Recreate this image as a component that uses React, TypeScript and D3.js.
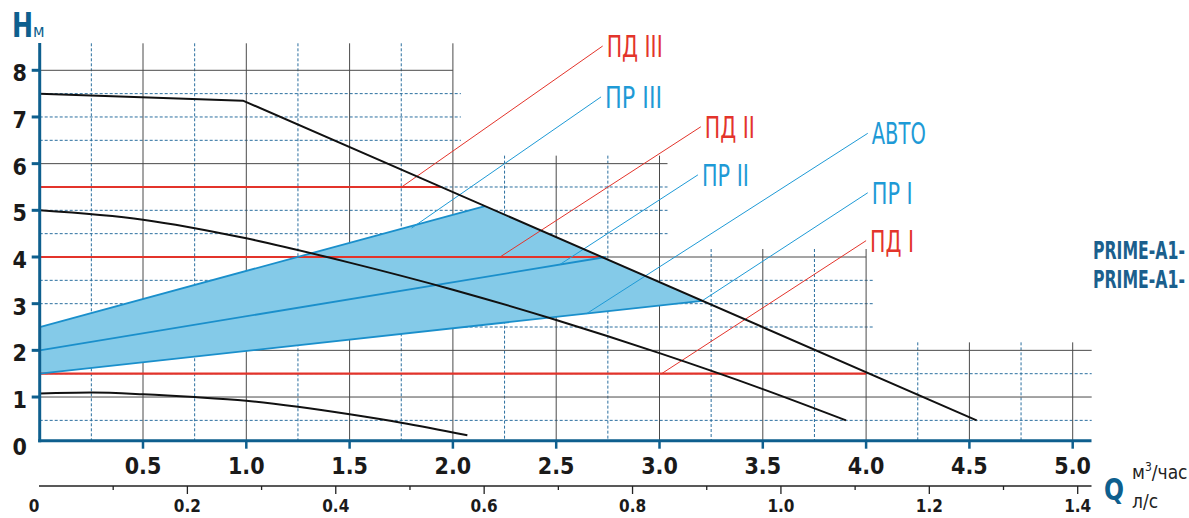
import React from "react";
import * as d3 from "d3";

// ---------- data ----------
const qTicks = [0.5, 1.0, 1.5, 2.0, 2.5, 3.0, 3.5, 4.0, 4.5, 5.0];
const hTicks = [0, 1, 2, 3, 4, 5, 6, 7, 8];
const lsTicks = [0.1, 0.2, 0.3, 0.4, 0.5, 0.6, 0.7, 0.8, 0.9, 1.0, 1.1, 1.2, 1.3, 1.4];
const lsLabels = [0, 0.2, 0.4, 0.6, 0.8, 1.0, 1.2, 1.4];

const topCurveQ = [0, 0.984, 4.535];
const topCurveH = [7.5, 7.35, 0.5];
const midCurveQ = [0, 0.5, 1.0, 1.5, 2.0, 2.5, 3.0, 3.5, 3.903];
const midCurveH = [5.0, 4.8, 4.4, 3.88, 3.3, 2.65, 1.94, 1.17, 0.5];
const lowCurveQ = [0, 0.25, 0.5, 0.75, 1.0, 1.25, 1.5, 1.75, 2.07];
const lowCurveH = [1.075, 1.095, 1.06, 1.0, 0.92, 0.79, 0.63, 0.45, 0.18];

// proportional pressure lines (ПР)
const prNames = ["ПР III", "ПР II", "ПР I"];
const prStartH = [2.5, 2.0, 1.5];
const prEndQ = [2.155, 2.74, 3.206];
const prEndH = [5.09, 4.0, 3.06];

// constant pressure lines (ПД)
const pdNames = ["ПД III", "ПД II", "ПД I"];
const pdH = [5.5, 4.0, 1.5];
const pdEndQ = [1.943, 2.73, 4.0];

// AUTO region polygon
const autoQ = [0, 2.155, 3.206, 0];
const autoH = [2.5, 5.09, 3.06, 1.5];

// mode labels and leaders
const modeLabels = ["ПД III", "ПР III", "ПД II", "ПР II", "АВТО", "ПР I", "ПД I"];
const modeKinds = ["pd", "pr", "pd", "pr", "pr", "pr", "pd"];
const leaderStartQ = [1.752, 1.8, 2.228, 2.518, 2.647, 3.206, 3.01];
const leaderStartH = [5.5, 4.62, 4.0, 3.84, 2.786, 3.06, 1.5];
const leaderEndQ = [2.725, 2.717, 3.2, 3.186, 4.008, 4.008, 4.0];
const leaderEndH = [8.52, 7.43, 6.79, 5.76, 6.65, 5.376, 4.35];
const labelWidths = [56, 57, 50, 47, 54, 41, 44];

// grid blocks
const gridQMax = [2, 3, 4, 5];
const gridHMax = [8, 6, 4, 2];
const darkH = [1, 2, 4, 6, 8];

const modelLines = ["PRIME-A1-", "PRIME-A1-"];

// ---------- styles ----------
const W = 1189;
const HH = 518;
const AXIS = "#0e5f8e";
const RED = "#e3342b";
const BLUE = "#1a8fcb";
const LBLUE = "#1e9ad6";
const FILL = "#84cae8";
const GRID_DARK = "#4a4a4a";
const GRID_BLUE = "#2b6f9f";
const FONT = "'Liberation Sans Narrow', 'DejaVu Sans Condensed', 'Open Sans', sans-serif";

export default function App() {
  const x = d3.scaleLinear().domain([0, 5]).range([39.7, 39.7 + 5 * 206.6]);
  const y = d3.scaleLinear().domain([0, 8]).range([443.7, 70.3]);
  const xl = d3.scaleLinear().domain([0, 1.4]).range([39, 1077.7]);

  const axisY = y(0) - 3;

  const line = d3
    .line<[number, number]>()
    .x((d) => x(d[0]))
    .y((d) => y(d[1]));
  const smooth = d3
    .line<[number, number]>()
    .x((d) => x(d[0]))
    .y((d) => y(d[1]))
    .curve(d3.curveMonotoneX);

  const zip = (a: number[], b: number[]) => a.map((v, i) => [v, b[i]] as [number, number]);

  // grid
  const hLines = d3.range(0.5, 8.01, 0.5).map((h) => {
    let bi = 0;
    gridHMax.forEach((m, i) => {
      if (m >= h - 1e-9) bi = i;
    });
    const dark = darkH.some((d) => Math.abs(d - h) < 1e-9);
    const ext = bi === 3 ? 19 : h === 8 || h === 4 ? 0 : 8;
    return { h, x2: x(gridQMax[bi]) + ext, dark };
  });
  const vLines = d3.range(0.25, 5.01, 0.25).map((q) => {
    const bi = gridQMax.findIndex((m) => m >= q - 1e-9);
    const top = bi === 0 ? y(gridHMax[0]) - 27 : y(gridHMax[bi]) - 8;
    const dark = Math.abs(q * 2 - Math.round(q * 2)) < 1e-9;
    return { q, top, dark };
  });

  const fmt1 = d3.format(".1f");

  return (
    <svg
      width={W}
      height={HH}
      style={{ position: "absolute", left: 0, top: 0, background: "#fff" }}
      fontFamily={FONT}
    >
      {/* grid */}
      <g>
        {hLines
          .filter((l) => !l.dark)
          .map((l) => (
            <line key={"hd" + l.h} x1={x(0)} x2={l.x2} y1={y(l.h)} y2={y(l.h)} stroke={GRID_BLUE} strokeWidth={1} strokeDasharray="3,2" />
          ))}
        {vLines
          .filter((l) => !l.dark)
          .map((l) => (
            <line key={"vd" + l.q} x1={x(l.q)} x2={x(l.q)} y1={l.top} y2={axisY} stroke={GRID_BLUE} strokeWidth={1} strokeDasharray="3,2" />
          ))}
        {hLines
          .filter((l) => l.dark)
          .map((l) => (
            <line key={"hk" + l.h} x1={x(0)} x2={l.x2} y1={y(l.h)} y2={y(l.h)} stroke={GRID_DARK} strokeWidth={1} />
          ))}
        {vLines
          .filter((l) => l.dark)
          .map((l) => (
            <line key={"vk" + l.q} x1={x(l.q)} x2={x(l.q)} y1={l.top} y2={axisY} stroke={GRID_DARK} strokeWidth={1} />
          ))}
      </g>

      {/* AUTO region */}
      <path d={line(zip(autoQ, autoH))! + "Z"} fill={FILL} stroke="none" />

      {/* ПД lines */}
      {pdNames.map((n, i) => (
        <line key={n} x1={x(0)} x2={x(pdEndQ[i])} y1={y(pdH[i])} y2={y(pdH[i])} stroke={RED} strokeWidth={2.2} />
      ))}

      {/* ПР lines */}
      {prNames.map((n, i) => (
        <path key={n} d={line([[0, prStartH[i]], [prEndQ[i], prEndH[i]]])!} fill="none" stroke={BLUE} strokeWidth={1.8} />
      ))}

      {/* leaders */}
      {modeLabels.map((n, i) => (
        <line
          key={"ld" + n}
          x1={x(leaderStartQ[i])}
          y1={y(leaderStartH[i])}
          x2={x(leaderEndQ[i])}
          y2={y(leaderEndH[i])}
          stroke={modeKinds[i] === "pd" ? RED : LBLUE}
          strokeWidth={1}
        />
      ))}

      {/* pump curves */}
      <path d={line(zip(topCurveQ, topCurveH))!} fill="none" stroke="#111" strokeWidth={2} />
      <path d={smooth(zip(midCurveQ, midCurveH))!} fill="none" stroke="#111" strokeWidth={2} />
      <path d={smooth(zip(lowCurveQ, lowCurveH))!} fill="none" stroke="#111" strokeWidth={2} />

      {/* mode labels */}
      {modeLabels.map((n, i) => (
        <text
          key={"lb" + n}
          x={x(leaderEndQ[i]) + 4}
          y={y(leaderEndH[i]) + 11}
          fontSize={30}
          fill={modeKinds[i] === "pd" ? RED : LBLUE}
          textLength={labelWidths[i]}
          lengthAdjust="spacingAndGlyphs"
        >
          {n}
        </text>
      ))}

      {/* axes */}
      <line x1={x(0)} x2={x(0)} y1={43} y2={axisY + 1.5} stroke={AXIS} strokeWidth={3} />
      <line x1={x(0) - 1.5} x2={1091.5} y1={axisY} y2={axisY} stroke={AXIS} strokeWidth={3} />
      {hTicks
        .filter((h) => h > 0)
        .map((h) => (
          <line key={"yt" + h} x1={x(0) - 8} x2={x(0)} y1={y(h)} y2={y(h)} stroke={AXIS} strokeWidth={3} />
        ))}
      {hTicks.map((h) => (
        <text key={"yl" + h} x={27} y={y(h) + 11} fontSize={23} fontWeight="bold" fill="#1a1a1a" textAnchor="end">
          {h}
        </text>
      ))}
      {qTicks.map((q) => (
        <line key={"xt" + q} x1={x(q)} x2={x(q)} y1={axisY} y2={axisY + 8} stroke={AXIS} strokeWidth={2.5} />
      ))}
      {qTicks.map((q) => (
        <text key={"xl" + q} x={x(q)} y={474} fontSize={23} fontWeight="bold" fill="#1a1a1a" textAnchor="middle">
          {fmt1(q)}
        </text>
      ))}

      {/* l/s axis */}
      <line x1={xl(0)} x2={1091.5} y1={486} y2={486} stroke="#222" strokeWidth={1.3} />
      {lsTicks.map((t, i) => (
        <line key={"lt" + t} x1={xl(t)} x2={xl(t)} y1={486} y2={i % 2 === 1 ? 494 : 490} stroke="#222" strokeWidth={1.3} />
      ))}
      {lsLabels.map((t, i) => (
        <text key={"ll" + t} x={xl(t) - (i === 0 ? 5 : 0)} y={512} fontSize={17} fontWeight="bold" fill="#1a1a1a" textAnchor="middle">
          {t === 0 ? "0" : fmt1(t)}
        </text>
      ))}

      {/* axis titles */}
      <text x={12} y={37} fontSize={28} fontWeight="bold" fill={AXIS} transform="translate(12,37) scale(1,1.18) translate(-12,-37)">
        H
      </text>
      <text x={33} y={37} fontSize={17} fill={AXIS}>
        м
      </text>
      <text x={1104} y={500} fontSize={31} fontWeight="bold" fill={AXIS} textLength={20} lengthAdjust="spacingAndGlyphs">
        Q
      </text>
      <text x={1132} y={479} fontSize={19} fill="#222">
        м<tspan fontSize={12} dy={-8}>3</tspan>
        <tspan dy={8}>/час</tspan>
      </text>
      <text x={1132} y={508} fontSize={19} fill="#222">
        л/с
      </text>

      {/* model names */}
      {modelLines.map((t, i) => (
        <text key={"m" + i} x={1093} y={259 + i * 29} fontSize={20} fontWeight="bold" fill="#1b5f8d" textLength={92} lengthAdjust="spacingAndGlyphs"
          transform={`translate(1093,${259 + i * 29}) scale(1,1.2) translate(-1093,${-(259 + i * 29)})`}>
          {t}
        </text>
      ))}
    </svg>
  );
}
